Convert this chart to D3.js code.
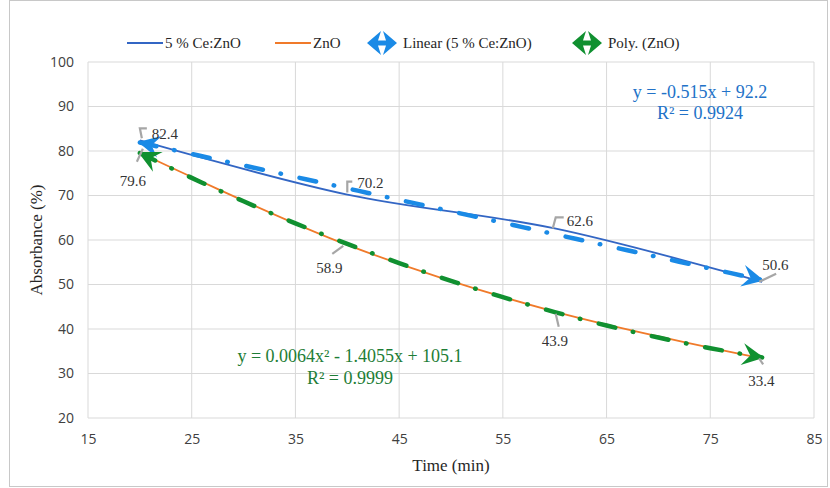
<!DOCTYPE html>
<html>
<head>
<meta charset="utf-8">
<script src="https://cdn.jsdelivr.net/npm/d3@7/dist/d3.min.js"></script>
<style>
  body { margin: 0; background: #fff; }
</style>
</head>
<body>
<div id="chart"></div>
<script>
var times = [20, 40, 60, 80];
var ceZnO = [82.4, 70.2, 62.6, 50.6];
var znO = [79.6, 58.9, 43.9, 33.4];
var linCoef = [-0.515, 92.2];          // y = a x + b
var polyCoef = [0.0064, -1.4055, 105.1]; // y = a x^2 + b x + c
var xTicks = [15, 25, 35, 45, 55, 65, 75, 85];
var yTicks = [20, 30, 40, 50, 60, 70, 80, 90, 100];

var width = 830, height = 488;
var margin = { left: 88, right: 16, top: 62, bottom: 70 };
var serif = "'Liberation Serif', 'Times New Roman', 'DejaVu Serif', serif";
var sans = "'Open Sans', 'Liberation Sans', sans-serif";

var blue = '#3366c4', orange = '#f07a2a', trendBlue = '#1a8ae6', trendGreen = '#109030';

var svg = d3.select('#chart').append('svg')
  .attr('width', width)
  .attr('height', height);

svg.append('rect')
  .attr('x', 9.5).attr('y', 0.5)
  .attr('width', 818).attr('height', 486)
  .attr('fill', 'none').attr('stroke', '#c8c8c8');

var x = d3.scaleLinear().domain([15, 85]).range([margin.left, width - margin.right]);
var y = d3.scaleLinear().domain([20, 100]).range([height - margin.bottom, margin.top]);

// grid
svg.append('g').selectAll('line').data(yTicks).enter().append('line')
  .attr('x1', x(15)).attr('x2', x(85))
  .attr('y1', function(d) { return y(d); })
  .attr('y2', function(d) { return y(d); })
  .attr('stroke', '#d9d9d9');
svg.append('g').selectAll('line').data(xTicks).enter().append('line')
  .attr('x1', function(d) { return x(d); })
  .attr('x2', function(d) { return x(d); })
  .attr('y1', y(20)).attr('y2', y(100))
  .attr('stroke', '#d9d9d9');

// axes
var xAxis = svg.append('g')
  .attr('transform', 'translate(0,' + y(20) + ')')
  .call(d3.axisBottom(x).tickValues(xTicks).tickSize(0).tickPadding(16));
var yAxis = svg.append('g')
  .attr('transform', 'translate(' + x(15) + ',0)')
  .call(d3.axisLeft(y).tickValues(yTicks).tickSize(0).tickPadding(14));
[xAxis, yAxis].forEach(function(a) {
  a.select('.domain').remove();
  a.selectAll('text')
    .style('font-family', sans)
    .style('font-size', '14px').attr('fill', '#404040');
});

svg.append('text')
  .attr('x', x(50)).attr('y', 471)
  .attr('text-anchor', 'middle')
  .style('font-family', serif)
  .style('font-size', '17px').attr('fill', '#262626')
  .text('Time (min)');
svg.append('text')
  .attr('transform', 'translate(42,' + y(60) + ') rotate(-90)')
  .attr('text-anchor', 'middle')
  .style('font-family', serif)
  .style('font-size', '17px').attr('fill', '#262626')
  .text('Absorbance (%)');

// arrow markers
var defs = svg.append('defs');
function arrowMarker(id, color) {
  defs.append('marker')
    .attr('id', id)
    .attr('markerUnits', 'userSpaceOnUse')
    .attr('viewBox', '-22 -12 24 24')
    .attr('markerWidth', 24).attr('markerHeight', 24)
    .attr('refX', 0).attr('refY', 0)
    .attr('orient', 'auto-start-reverse')
    .append('path')
      .attr('d', 'M2,0 L-20,-11 L-12,0 L-20,11 Z')
      .attr('fill', color);
}
arrowMarker('arrBlue', trendBlue);
arrowMarker('arrGreen', trendGreen);

var line = d3.line()
  .x(function(d) { return x(d[0]); })
  .y(function(d) { return y(d[1]); })
  .curve(d3.curveCatmullRom.alpha(0.5));

// series lines
svg.append('path')
  .datum(d3.zip(times, ceZnO))
  .attr('d', line)
  .attr('fill', 'none').attr('stroke', blue).attr('stroke-width', 1.8);
svg.append('path')
  .datum(d3.zip(times, znO))
  .attr('d', line)
  .attr('fill', 'none').attr('stroke', orange).attr('stroke-width', 1.8);

// trendlines
var xs = d3.range(20, 80.01, 1);
var linPts = xs.map(function(t) { return [t, linCoef[0] * t + linCoef[1]]; });
var polyPts = xs.map(function(t) { return [t, polyCoef[0] * t * t + polyCoef[1] * t + polyCoef[2]]; });
var straight = d3.line()
  .x(function(d) { return x(d[0]); })
  .y(function(d) { return y(d[1]); });

svg.append('path')
  .datum(linPts)
  .attr('d', straight)
  .attr('fill', 'none').attr('stroke', trendBlue).attr('stroke-width', 4.5)
  .attr('stroke-linecap', 'round')
  .attr('stroke-dasharray', '17 18 0.5 19')
  .attr('marker-start', 'url(#arrBlue)')
  .attr('marker-end', 'url(#arrBlue)');
svg.append('path')
  .datum(polyPts)
  .attr('d', straight)
  .attr('fill', 'none').attr('stroke', trendGreen).attr('stroke-width', 4.5)
  .attr('stroke-linecap', 'round')
  .attr('stroke-dasharray', '17 18 0.5 19')
  .attr('marker-start', 'url(#arrGreen)')
  .attr('marker-end', 'url(#arrGreen)');

// data labels with leader lines (offsets from the point)
var labelOffsets = {
  ce: [[12, -7, 'M2,-2 L0,-12 L7,-12'], [10, -12, 'M0,-2 L0,-13 L5,-13'], [12, -8, 'M-2,0 L1,-11 L9,-11'], [0, -17, 'M-3,0 L14,-8']],
  zn: [[-20, 28, 'M3,-4 L-3,9'], [-31, 23, 'M-4,1 L-15,9'], [-13, 29, 'M1,2 L4,15'], [-14, 22, 'M-3,0 L1,6']]
};
function drawLabels(vals, offs) {
  vals.forEach(function(v, i) {
    var px = x(times[i]), py = y(v), o = offs[i];
    svg.append('path')
      .attr('d', o[2])
      .attr('transform', 'translate(' + px + ',' + py + ')')
      .attr('fill', 'none').attr('stroke', '#a6a6a6').attr('stroke-width', 2.2);
    svg.append('text')
      .attr('x', px + o[0]).attr('y', py + o[1])
      .attr('dy', '0.35em')
      .style('font-family', serif)
      .style('font-size', '15px').attr('fill', '#333')
      .text(v.toFixed(1));
  });
}
drawLabels(ceZnO, labelOffsets.ce);
drawLabels(znO, labelOffsets.zn);

// equations
var eqBlue = svg.append('text').attr('text-anchor', 'middle')
  .style('font-family', serif)
  .style('font-size', '18px').attr('fill', '#2272c8');
eqBlue.append('tspan').attr('x', 700).attr('y', 98).text('y = -0.515x + 92.2');
eqBlue.append('tspan').attr('x', 700).attr('y', 119).text('R² = 0.9924');
var eqGreen = svg.append('text').attr('text-anchor', 'middle')
  .style('font-family', serif)
  .style('font-size', '18px').attr('fill', '#1e7d36');
eqGreen.append('tspan').attr('x', 350).attr('y', 362).text('y = 0.0064x² - 1.4055x + 105.1');
eqGreen.append('tspan').attr('x', 350).attr('y', 384).text('R² = 0.9999');

// legend
var legendItems = [
  { name: '5 % Ce:ZnO', type: 'line', color: blue, x: 127 },
  { name: 'ZnO', type: 'line', color: orange, x: 275 },
  { name: 'Linear (5 % Ce:ZnO)', type: 'arrow', color: trendBlue, x: 367 },
  { name: 'Poly. (ZnO)', type: 'arrow', color: trendGreen, x: 572 }
];
var leg = svg.append('g').selectAll('g').data(legendItems).enter().append('g')
  .attr('transform', function(d) { return 'translate(' + d.x + ',43)'; });
leg.filter(function(d) { return d.type === 'line'; })
  .append('line')
  .attr('x1', 0).attr('x2', 36)
  .attr('stroke', function(d) { return d.color; }).attr('stroke-width', 2);
leg.filter(function(d) { return d.type === 'arrow'; })
  .append('path')
  .attr('d', 'M0,0 L14,-12 L11,-2.5 L19,-2.5 L16,-12 L30,0 L16,12 L19,2.5 L11,2.5 L14,12 Z')
  .attr('fill', function(d) { return d.color; });
leg.append('text')
  .attr('x', function(d) { return d.type === 'line' ? 38 : 36; })
  .attr('dy', '0.35em')
  .style('font-family', serif)
  .style('font-size', '15px').attr('fill', '#262626')
  .text(function(d) { return d.name; });
</script>
</body>
</html>
